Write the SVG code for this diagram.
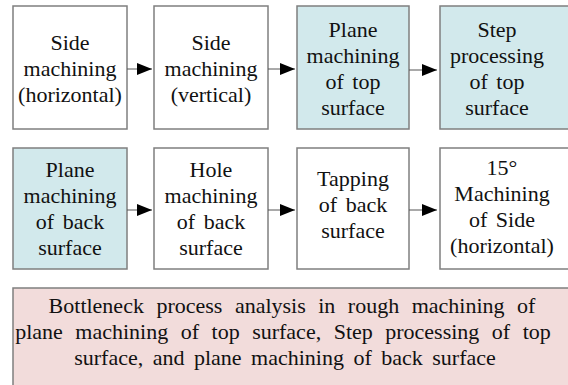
<svg xmlns="http://www.w3.org/2000/svg" width="568" height="385" viewBox="0 0 568 385">
<style>
.box{stroke:#7f7f7f;stroke-width:1.5}
.w{fill:#ffffff}
.b{fill:#d2e9ec}
.p{fill:#f2dcdb}
text{font-family:"Liberation Serif","Times New Roman",serif;font-size:22px;fill:#111;text-anchor:middle;word-spacing:3px}
.conn line{stroke:#555;stroke-width:1}
</style>
<defs>
<marker id="ah" markerWidth="15" markerHeight="12" refX="15" refY="6" orient="auto" markerUnits="userSpaceOnUse">
<path d="M0,0 L15,6 L0,12 Z" fill="#000"/>
</marker>
</defs>
<rect width="568" height="385" fill="#fff"/>
<g id="n1"><rect class="box w" x="13" y="6" width="114" height="123"/>
<text x="70" y="50">Side</text><text x="70" y="76">machining</text><text x="70" y="102">(horizontal)</text></g>
<g id="n2"><rect class="box w" x="154" y="6" width="114" height="123"/>
<text x="211" y="50">Side</text><text x="211" y="76">machining</text><text x="211" y="102">(vertical)</text></g>
<g id="n3"><rect class="box b" x="297" y="6" width="112" height="123"/>
<text x="353" y="37">Plane</text><text x="353" y="63">machining</text><text x="353" y="89">of top</text><text x="353" y="115">surface</text></g>
<g id="n4"><rect class="box b" x="440" y="6" width="140" height="123"/>
<text x="497" y="37">Step</text><text x="497" y="63">processing</text><text x="497" y="89">of top</text><text x="497" y="115">surface</text></g>
<g id="n5"><rect class="box b" x="13" y="148" width="114" height="121"/>
<text x="70" y="177">Plane</text><text x="70" y="203">machining</text><text x="70" y="229">of back</text><text x="70" y="255">surface</text></g>
<g id="n6"><rect class="box w" x="154" y="148" width="114" height="121"/>
<text x="211" y="177">Hole</text><text x="211" y="203">machining</text><text x="211" y="229">of back</text><text x="211" y="255">surface</text></g>
<g id="n7"><rect class="box w" x="297" y="148" width="112" height="121"/>
<text x="353" y="186">Tapping</text><text x="353" y="212">of back</text><text x="353" y="238">surface</text></g>
<g id="n8"><rect class="box w" x="440" y="148" width="140" height="121"/>
<text x="502" y="175">15°</text><text x="502" y="201">Machining</text><text x="502" y="227">of Side</text><text x="502" y="253">(horizontal)</text></g>
<g id="n9"><rect class="box p" x="13" y="288" width="570" height="110"/>
<text x="292" y="313" style="word-spacing:7px">Bottleneck process analysis in rough machining of</text>
<text x="283" y="339" style="word-spacing:7px">plane machining of top surface, Step processing of top</text>
<text x="285" y="365" style="word-spacing:4px">surface, and plane machining of back surface</text></g>
<g class="conn">
<line x1="127" y1="69" x2="152" y2="69" marker-end="url(#ah)"/>
<line x1="268" y1="69" x2="295" y2="69" marker-end="url(#ah)"/>
<line x1="409" y1="70" x2="437" y2="70" marker-end="url(#ah)"/>
<line x1="127" y1="210" x2="152" y2="210" marker-end="url(#ah)"/>
<line x1="268" y1="210" x2="295" y2="210" marker-end="url(#ah)"/>
<line x1="409" y1="210" x2="437" y2="210" marker-end="url(#ah)"/>
</g>
</svg>
